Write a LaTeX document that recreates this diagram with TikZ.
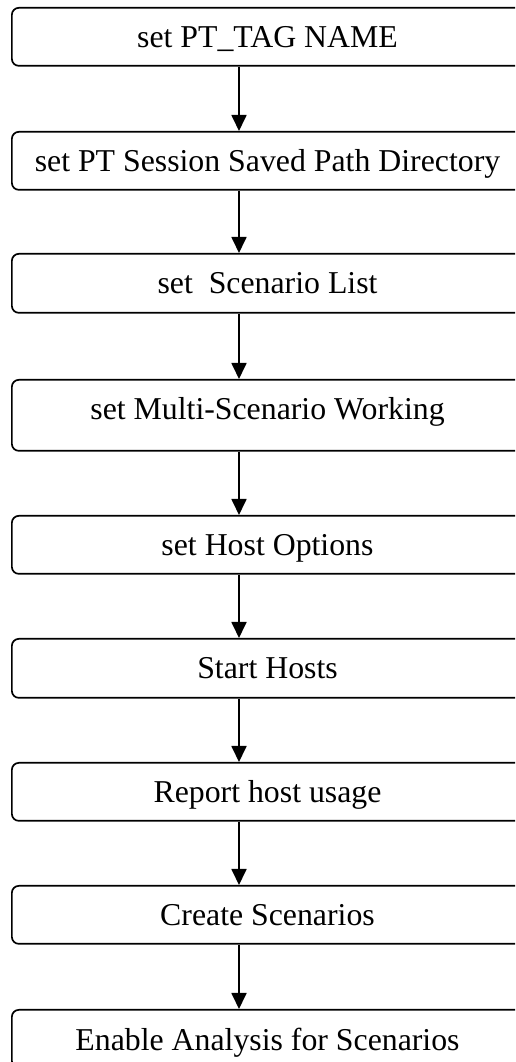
\documentclass[tikz,border=0pt]{standalone}
\usepackage{fontspec}
\setmainfont{Liberation Serif}
\usetikzlibrary{arrows.meta}
\begin{document}
\begin{tikzpicture}[x=1pt,y=1pt,
  stepbox/.style={draw=black, line width=1.7pt, rounded corners=7pt, minimum width=513pt, anchor=north west, inner sep=0pt},
  boxtext/.style={anchor=base, inner sep=0pt, font=\fontsize{31.8}{38}\selectfont},
  arr/.style={line width=1.8pt, -{Triangle[length=16pt,width=15pt]}}]
\useasboundingbox (0,0) rectangle (515,1062);
\clip (0,0) rectangle (515,1062);
\coordinate (ax) at (239,0);
% boxes (top y in px from top)
\node[stepbox, minimum height=58pt] (b1) at (11,1055) {};
\node[stepbox, minimum height=58pt] (b2) at (11,931) {};
\node[stepbox, minimum height=59pt] (b3) at (11,809) {};
\node[stepbox, minimum height=71pt] (b4) at (11,683) {};
\node[stepbox, minimum height=58pt] (b5) at (11,547) {};
\node[stepbox, minimum height=59pt] (b6) at (11,424) {};
\node[stepbox, minimum height=58pt] (b7) at (11,300) {};
\node[stepbox, minimum height=58pt] (b8) at (11,177) {};
\node[stepbox, minimum height=58pt] (b9) at (11,53) {};
% texts: baseline = top + 41
\node[boxtext] (t1) at (267.5,1014) {set PT\_TAG NAME};
\node[boxtext] (t2) at (267.5,890) {set PT Session Saved Path Directory};
\node[boxtext] (t3) at (267.5,768) {set\ \ Scenario List};
\node[boxtext] (t4) at (267.5,642) {set Multi-Scenario Working};
\node[boxtext] (t5) at (267.5,506) {set Host Options};
\node[boxtext] (t6) at (267.5,383) {Start Hosts};
\node[boxtext] (t7) at (267.5,259) {Report host usage};
\node[boxtext] (t8) at (267.5,136) {Create Scenarios};
\node[boxtext] (t9) at (267.5,12) {Enable Analysis for Scenarios};
% connectors
\draw[arr] (b1.south -| ax) -- (b2.north -| ax);
\draw[arr] (b2.south -| ax) -- (b3.north -| ax);
\draw[arr] (b3.south -| ax) -- (b4.north -| ax);
\draw[arr] (b4.south -| ax) -- (b5.north -| ax);
\draw[arr] (b5.south -| ax) -- (b6.north -| ax);
\draw[arr] (b6.south -| ax) -- (b7.north -| ax);
\draw[arr] (b7.south -| ax) -- (b8.north -| ax);
\draw[arr] (b8.south -| ax) -- (b9.north -| ax);
\end{tikzpicture}
\end{document}
